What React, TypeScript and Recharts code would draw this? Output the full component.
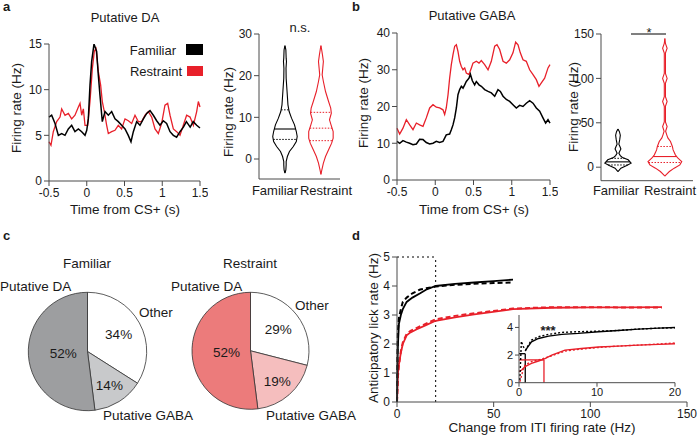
import { LineChart, Line, XAxis, YAxis, ComposedChart, PieChart, Pie, Cell, ReferenceLine } from "recharts";

// ---- styles ----
const FONT = "'Liberation Sans', Arial, Helvetica, sans-serif";
const AX = "#4a4a4a";
const TXT = "#1a1a1a";
const RED = "#e8202a";

// ---- a: putative DA firing rate ----
const daFamT = [-0.5, -0.465, -0.42, -0.376, -0.332, -0.288, -0.244, -0.2, -0.156, -0.111, -0.067, -0.023, 0, 0.021, 0.043, 0.065, 0.096, 0.131, 0.153, 0.175, 0.206, 0.242, 0.286, 0.33, 0.374, 0.418, 0.462, 0.507, 0.55, 0.586, 0.617, 0.661, 0.705, 0.75, 0.794, 0.838, 0.882, 0.926, 0.97, 1.014, 1.058, 1.103, 1.147, 1.19, 1.235, 1.28, 1.32, 1.37, 1.41, 1.456, 1.5];
const daFamV = [7.0, 7.2, 6.3, 5.0, 5.2, 5.0, 5.7, 6.1, 5.4, 5.7, 5.4, 5.0, 5.55, 6.8, 10.5, 13.1, 15.0, 14.2, 11.6, 9.4, 6.5, 7.6, 7.2, 7.6, 6.8, 6.5, 6.1, 5.7, 5.0, 4.3, 5.4, 6.5, 6.1, 6.8, 7.4, 7.7, 7.2, 6.6, 6.1, 6.6, 6.3, 5.4, 5.0, 4.8, 5.4, 5.9, 6.5, 5.9, 6.5, 6.1, 5.8];
const daResT = [-0.5, -0.474, -0.443, -0.398, -0.354, -0.332, -0.288, -0.244, -0.2, -0.156, -0.111, -0.089, -0.067, -0.045, -0.023, 0.012, 0.043, 0.074, 0.1, 0.122, 0.153, 0.184, 0.206, 0.233, 0.264, 0.286, 0.33, 0.374, 0.418, 0.462, 0.507, 0.551, 0.595, 0.639, 0.683, 0.727, 0.772, 0.816, 0.86, 0.904, 0.948, 0.992, 1.036, 1.072, 1.103, 1.147, 1.191, 1.235, 1.279, 1.323, 1.368, 1.412, 1.456, 1.478, 1.5];
const daResV = [4.3, 3.9, 5.4, 6.5, 7.0, 7.9, 7.2, 7.4, 6.8, 7.2, 8.1, 8.5, 7.2, 7.9, 6.1, 6.1, 8.7, 12.3, 14.2, 14.5, 12.0, 10.5, 8.7, 7.6, 6.1, 5.2, 5.4, 5.55, 6.1, 5.7, 6.8, 6.6, 6.3, 7.2, 6.5, 6.5, 7.2, 7.6, 7.0, 5.7, 5.2, 6.3, 8.3, 8.5, 7.2, 5.7, 5.4, 5.0, 6.1, 7.2, 7.0, 6.1, 7.6, 8.7, 8.1];

// ---- b: putative GABA firing rate ----
const gbFamT = [-0.5, -0.465, -0.422, -0.378, -0.334, -0.291, -0.247, -0.204, -0.16, -0.117, -0.073, -0.029, 0.014, 0.057, 0.101, 0.123, 0.144, 0.188, 0.21, 0.232, 0.254, 0.276, 0.297, 0.319, 0.341, 0.363, 0.385, 0.406, 0.441, 0.459, 0.485, 0.515, 0.537, 0.572, 0.602, 0.646, 0.69, 0.733, 0.777, 0.82, 0.851, 0.886, 0.929, 0.973, 1.016, 1.06, 1.103, 1.147, 1.19, 1.234, 1.278, 1.321, 1.365, 1.408, 1.443, 1.474, 1.5];
const gbFamV = [10.5, 10.0, 10.7, 10.3, 10.0, 9.6, 9.8, 11.1, 11.0, 10.2, 9.8, 10.0, 10.5, 10.2, 10.5, 11.4, 12.3, 12.5, 13.7, 15.0, 16.9, 19.6, 23.2, 24.6, 25.5, 25.0, 25.9, 26.8, 27.7, 28.8, 27.0, 25.9, 26.8, 25.9, 25.5, 24.6, 24.1, 23.7, 22.8, 24.6, 24.1, 22.8, 21.9, 21.4, 20.5, 19.6, 20.3, 20.0, 20.9, 21.6, 20.9, 19.6, 18.7, 16.9, 15.5, 16.4, 15.5];
const gbResT = [-0.5, -0.465, -0.422, -0.378, -0.334, -0.291, -0.247, -0.204, -0.16, -0.117, -0.073, -0.029, 0.014, 0.057, 0.101, 0.123, 0.144, 0.167, 0.188, 0.21, 0.232, 0.254, 0.276, 0.297, 0.319, 0.341, 0.363, 0.385, 0.406, 0.441, 0.472, 0.493, 0.537, 0.572, 0.602, 0.646, 0.69, 0.733, 0.777, 0.807, 0.842, 0.886, 0.929, 0.973, 1.016, 1.051, 1.082, 1.112, 1.147, 1.19, 1.234, 1.278, 1.321, 1.356, 1.387, 1.43, 1.474, 1.5];
const gbResV = [14.1, 12.5, 14.1, 16.4, 15.0, 13.7, 15.5, 15.0, 14.6, 16.9, 19.6, 20.5, 19.8, 19.6, 19.1, 17.8, 19.6, 23.2, 27.7, 31.4, 34.1, 36.4, 36.8, 35.0, 32.3, 30.9, 30.0, 30.5, 29.1, 28.7, 30.5, 31.8, 32.3, 31.8, 32.5, 31.4, 30.0, 32.3, 36.4, 36.8, 35.5, 32.3, 31.8, 32.7, 34.6, 37.5, 36.8, 34.6, 32.7, 32.3, 30.0, 28.7, 27.3, 25.5, 26.4, 27.7, 30.5, 31.4];

// ---- violins (firing rate level, relative density) ----
const vaFamY = [-3.4, -2.6, -1.4, -0.6, 0.6, 1.8, 3.0, 4.2, 5.4, 6.6, 8.2, 9.8, 11.4, 13, 16.2, 19.4, 21.8, 23.4, 24.2, 26.2, 27.2];
const vaFamD = [0, 3, 4, 4, 8, 15, 28, 38, 41, 38, 32, 22, 14, 10, 7, 4, 3.5, 5, 4, 3, 0];
const vaResY = [-3.7, -2.6, -1, 0.6, 2.2, 3.8, 5, 6.6, 8.2, 9.4, 11, 12.2, 13.8, 16.2, 18.6, 20.2, 21.8, 23.4, 25, 26.4, 27.2];
const vaResD = [0, 3, 8, 15, 25, 35, 40, 40, 33, 28, 34, 32, 25, 15, 8, 4, 6, 8, 5, 2, 0];
const vaFamQ = [4.7, 7.2, 11.8];
const vaResQ = [4.4, 7.4, 11.2];

const vbFamY = [-4.9, -1.1, 1.9, 4.5, 8.3, 11, 13, 15.8, 18, 20.5, 23, 26, 31, 36, 40, 43];
const vbFamD = [0, 10, 30, 45, 35, 15, 8, 3, 6, 10, 7, 3, 6, 8, 5, 0];
const vbResY = [-10, -8.6, -4.9, -1.1, 2.6, 6.4, 10.1, 13.9, 19.5, 23.3, 28.9, 33, 36.4, 40.5, 45.8, 51, 68.5, 74, 79.5, 94.5, 100, 105.5, 128.5, 134, 139.5, 145];
const vbResD = [0, 3, 12, 25, 40, 45, 35, 28, 22, 20, 15, 8, 5, 2, 6, 1.5, 1.5, 6, 1.5, 1.5, 6, 1.5, 1.5, 6, 1.5, 0];
const vbFamQ = [2.5, 6, 10];
const vbResQ = [5.3, 12, 23.3];

// ---- c: cell type proportions ----
const pieNames = ["Other", "Putative GABA", "Putative DA"];
const famPct = [34, 14, 52];
const resPct = [29, 19, 52];
const famColors = ["#ffffff", "#c8c9cb", "#9d9ea0"];
const resColors = ["#ffffff", "#f5bebe", "#ec7b7b"];

// ---- d: lick rate vs change in firing ----
const dBlackX = [0, 0.2, 0.5, 1, 2, 3, 5, 8, 12, 15, 20, 30, 40, 50, 60];
const dBlackSolid = [0, 1.2, 2.0, 2.7, 3.0, 3.2, 3.45, 3.6, 3.75, 3.87, 4.0, 4.07, 4.12, 4.17, 4.22];
const dBlackDash = [0, 1.6, 2.5, 2.9, 3.2, 3.45, 3.6, 3.75, 3.88, 3.92, 3.98, 4.04, 4.08, 4.1, 4.12];
const dRedX = [0, 0.3, 0.5, 1, 2, 3, 5, 7, 10, 15, 20, 30, 40, 60, 80, 100, 120, 137];
const dRedSolid = [0, 0.6, 1.0, 1.3, 1.7, 2.0, 2.3, 2.4, 2.5, 2.65, 2.8, 2.92, 3.02, 3.2, 3.25, 3.26, 3.26, 3.27];
const dRedDash = [0, 0.5, 0.9, 1.25, 1.75, 2.05, 2.35, 2.45, 2.55, 2.7, 2.85, 2.97, 3.06, 3.22, 3.27, 3.27, 3.26, 3.26];

const inBlackSolidX = [0.8, 1.0, 1.6, 2.5, 3.8, 5.5, 7.6, 10.2, 12.7, 15.3, 17.9, 20];
const inBlackSolidY = [2.3, 2.48, 2.96, 3.2, 3.37, 3.5, 3.57, 3.69, 3.78, 3.88, 3.95, 4.0];
const inBlackDotX = [0.1, 0.2, 0.3, 0.55, 0.85, 1.2, 1.6, 2.5, 3.8, 5.5, 7.6, 10.2, 12.7, 15.3, 17.9, 20];
const inBlackDotY = [0.2, 1.5, 3.0, 2.6, 2.36, 2.72, 3.08, 3.33, 3.5, 3.64, 3.69, 3.73, 3.78, 3.88, 3.95, 3.98];
const inRedSolidX = [0, 0.35, 0.77, 1.6, 2.5, 3.2, 4.2, 5.9, 8, 10.2, 12.7, 15.3, 17.9, 20];
const inRedSolidY = [0.8, 0.92, 1.16, 1.4, 1.57, 1.71, 2.0, 2.36, 2.48, 2.58, 2.65, 2.72, 2.77, 2.82];
const inRedDotX = [0.1, 0.35, 0.55, 0.77, 1.6, 2.5, 4.2, 5.9, 8, 10.2, 12.7, 15.3, 17.9, 20];
const inRedDotY = [0.07, 0.55, 1.0, 1.28, 1.52, 1.64, 1.95, 2.29, 2.43, 2.55, 2.65, 2.72, 2.8, 2.87];
const blackThresh = [0.8, 2.1];
const redThresh = [3.2, 1.65];

// ---- helpers ----
const zip = (xs: number[], ys: number[]) => xs.map((x, i) => ({ x, y: ys[i] }));

type Geo = { x: number; y: number; w: number; h: number; l: number; t: number; r: number; b: number };
const place = (g: Geo) => ({
  style: { position: "absolute" as const, left: g.x - g.l, top: g.y - g.t },
  width: g.w + g.l + g.r,
  height: g.h + g.t + g.b,
  margin: { top: g.t, right: g.r, left: 0, bottom: 0 },
});

const tick = { fontSize: 12, fill: TXT, fontFamily: FONT };
const axis = { axisLine: { stroke: AX }, tickLine: { stroke: AX }, tickSize: 5, tickMargin: 2, interval: 0 as const };
const line = { dot: false, activeDot: false, isAnimationActive: false, type: "linear" as const };

function TraceChart({ geo, yMax, yTicks, fam, res }: { geo: Geo; yMax: number; yTicks: number[]; fam: { x: number; y: number }[]; res: { x: number; y: number }[] }) {
  const p = place(geo);
  return (
    <div style={p.style}>
      <LineChart width={p.width} height={p.height} margin={p.margin}>
        <XAxis type="number" dataKey="x" domain={[-0.5, 1.5]} ticks={[-0.5, 0, 0.5, 1, 1.5]} height={geo.b} tick={tick} {...axis} />
        <YAxis type="number" domain={[0, yMax]} ticks={yTicks} width={geo.l} tick={tick} allowDataOverflow {...axis} />
        <Line data={res} dataKey="y" stroke={RED} strokeWidth={1.3} {...line} />
        <Line data={fam} dataKey="y" stroke="#000" strokeWidth={1.5} {...line} />
      </LineChart>
    </div>
  );
}

type ViolinDef = { ys: number[]; dens: number[]; c: number; hw: number; color: string; q: number[]; solidMedian: boolean };

const densAt = (ys: number[], d: number[], v: number) => {
  for (let i = 1; i < ys.length; i++) {
    if (v <= ys[i]) return d[i - 1] + ((d[i] - d[i - 1]) * (v - ys[i - 1])) / (ys[i] - ys[i - 1]);
  }
  return 0;
};

function ViolinChart({ geo, yDomain, yTicks, xDomain, violins }: { geo: Geo; yDomain: number[]; yTicks: number[]; xDomain: number[]; violins: ViolinDef[] }) {
  const p = place(geo);
  return (
    <div style={p.style}>
      <ComposedChart layout="vertical" width={p.width} height={p.height} margin={p.margin}>
        <XAxis type="number" domain={xDomain} allowDataOverflow tick={false} tickLine={false} axisLine={{ stroke: AX }} height={geo.b} />
        <YAxis type="number" dataKey="y" domain={yDomain} ticks={yTicks} reversed allowDataOverflow width={geo.l} tick={tick} {...axis} />
        {violins.map((v, k) => {
          const max = Math.max(...v.dens);
          const pts = v.ys.map((y, i) => ({ y, l: v.c - (v.dens[i] / max) * v.hw, r: v.c + (v.dens[i] / max) * v.hw }));
          return [
            <Line key={`l${k}`} data={pts} dataKey="l" stroke={v.color} strokeWidth={1.1} {...line} />,
            <Line key={`r${k}`} data={pts} dataKey="r" stroke={v.color} strokeWidth={1.1} {...line} />,
            ...v.q.map((q, j) => {
              const w = (densAt(v.ys, v.dens, q) / max) * v.hw;
              const solid = j === 1 && v.solidMedian;
              return (
                <ReferenceLine
                  key={`q${k}${j}`}
                  segment={[{ x: v.c - w, y: q }, { x: v.c + w, y: q }]}
                  stroke={v.color}
                  strokeWidth={solid ? 1.1 : 1}
                  strokeDasharray={solid ? undefined : "1.5 1.5"}
                  ifOverflow="visible"
                />
              );
            }),
          ];
        })}
      </ComposedChart>
    </div>
  );
}

const PCT_R = [0.6, 0.69, 0.41];
const RAD = Math.PI / 180;
const pctLabel = (pr: any) => {
  const r = pr.outerRadius * PCT_R[pr.index ?? 0];
  const x = pr.cx + r * Math.cos(-pr.midAngle * RAD);
  const y = pr.cy + r * Math.sin(-pr.midAngle * RAD);
  return (
    <text x={x} y={y} textAnchor="middle" dominantBaseline="central" fontSize={13.5} fill={TXT} fontFamily={FONT}>
      {`${pr.value}%`}
    </text>
  );
};

function CellPie({ left, top, cx, cy, r, pct, colors }: { left: number; top: number; cx: number; cy: number; r: number; pct: number[]; colors: string[] }) {
  const data = pieNames.map((name, i) => ({ name, value: pct[i] }));
  return (
    <div style={{ position: "absolute", left, top }}>
      <PieChart width={170} height={140} margin={{ top: 0, right: 0, left: 0, bottom: 0 }}>
        <Pie
          data={data}
          dataKey="value"
          cx={cx}
          cy={cy}
          outerRadius={r}
          startAngle={90}
          endAngle={-270}
          stroke="#333"
          strokeWidth={0.8}
          label={pctLabel}
          labelLine={false}
          isAnimationActive={false}
        >
          {data.map((_, i) => (
            <Cell key={i} fill={colors[i]} />
          ))}
        </Pie>
      </PieChart>
    </div>
  );
}

function LickChart() {
  const g: Geo = { x: 397, y: 257, w: 290, h: 145, l: 30, t: 6, r: 11, b: 22 };
  const p = place(g);
  return (
    <div style={p.style}>
      <ComposedChart width={p.width} height={p.height} margin={p.margin}>
        <XAxis type="number" dataKey="x" domain={[0, 150]} ticks={[0, 50, 100, 150]} height={g.b} tick={tick} {...axis} />
        <YAxis type="number" domain={[0, 5]} ticks={[0, 1, 2, 3, 4, 5]} width={g.l} tick={tick} {...axis} />
        <ReferenceLine segment={[{ x: 0, y: 5 }, { x: 20, y: 5 }]} stroke="#000" strokeDasharray="2 3" ifOverflow="visible" />
        <ReferenceLine segment={[{ x: 20, y: 0 }, { x: 20, y: 5 }]} stroke="#000" strokeDasharray="2 3" ifOverflow="visible" />
        <Line data={zip(dRedX, dRedDash)} dataKey="y" stroke={RED} strokeWidth={2} strokeDasharray="5 3" {...line} />
        <Line data={zip(dRedX, dRedSolid)} dataKey="y" stroke={RED} strokeWidth={1.8} {...line} />
        <Line data={zip(dBlackX, dBlackDash)} dataKey="y" stroke="#000" strokeWidth={2} strokeDasharray="5 3" {...line} />
        <Line data={zip(dBlackX, dBlackSolid)} dataKey="y" stroke="#000" strokeWidth={1.8} {...line} />
      </ComposedChart>
    </div>
  );
}

function LickInset() {
  const g: Geo = { x: 519, y: 315, w: 156, h: 67.7, l: 20, t: 4, r: 12, b: 18 };
  const p = place(g);
  const small = { ...tick, fontSize: 11 };
  return (
    <div style={p.style}>
      <ComposedChart width={p.width} height={p.height} margin={p.margin}>
        <XAxis type="number" dataKey="x" domain={[0, 20]} ticks={[0, 10, 20]} height={g.b} tick={small} {...axis} tickSize={4} />
        <YAxis type="number" domain={[0, 4.9]} ticks={[0, 2, 4]} width={g.l} tick={small} {...axis} tickSize={4} />
        <ReferenceLine segment={[{ x: 0, y: blackThresh[1] }, { x: blackThresh[0], y: blackThresh[1] }]} stroke="#000" strokeWidth={1.3} />
        <ReferenceLine segment={[{ x: blackThresh[0], y: 0 }, { x: blackThresh[0], y: blackThresh[1] }]} stroke="#000" strokeWidth={1.3} />
        <ReferenceLine segment={[{ x: 0, y: redThresh[1] }, { x: redThresh[0], y: redThresh[1] }]} stroke={RED} strokeWidth={1.3} />
        <ReferenceLine segment={[{ x: redThresh[0], y: 0 }, { x: redThresh[0], y: redThresh[1] }]} stroke={RED} strokeWidth={1.3} />
        <Line data={zip(inRedDotX, inRedDotY)} dataKey="y" stroke={RED} strokeWidth={1.4} strokeDasharray="2 2" {...line} />
        <Line data={zip(inRedSolidX, inRedSolidY)} dataKey="y" stroke={RED} strokeWidth={1.4} {...line} />
        <Line data={zip(inBlackDotX, inBlackDotY)} dataKey="y" stroke="#000" strokeWidth={1.4} strokeDasharray="2 2" {...line} />
        <Line data={zip(inBlackSolidX, inBlackSolidY)} dataKey="y" stroke="#000" strokeWidth={1.4} {...line} />
      </ComposedChart>
    </div>
  );
}

function Overlay() {
  const yTitle = (x: number, y: number, s: string) => (
    <text transform={`translate(${x},${y}) rotate(-90)`} textAnchor="middle" dominantBaseline="central" fontSize={13.5}>
      {s}
    </text>
  );
  return (
    <svg width={698} height={440} style={{ position: "absolute", left: 0, top: 0, pointerEvents: "none" }} fontFamily={FONT} fill={TXT}>
      <g fontSize={13} fontWeight="bold">
        <text x={3} y={11}>a</text>
        <text x={352} y={11}>b</text>
        <text x={3} y={240}>c</text>
        <text x={352} y={240}>d</text>
      </g>
      <g fontSize={13} textAnchor="middle">
        <text x={125} y={22}>Putative DA</text>
        <text x={472} y={20}>Putative GABA</text>
      </g>
      {/* legend */}
      <g fontSize={13}>
        <text x={176} y={55} textAnchor="end">Familiar</text>
        <text x={182} y={76} textAnchor="end">Restraint</text>
      </g>
      <rect x={186} y={44} width={17} height={11} fill="#000" />
      <rect x={187} y={66} width={16} height={10} fill={RED} />
      {/* axis titles */}
      <g fontSize={13.5} textAnchor="middle">
        <text x={125} y={214}>Time from CS+ (s)</text>
        <text x={474} y={214}>Time from CS+ (s)</text>
        <text x={542} y={432}>Change from ITI firing rate (Hz)</text>
      </g>
      {yTitle(16, 108, "Firing rate (Hz)")}
      {yTitle(228, 112, "Firing rate  (Hz)")}
      {yTitle(363, 103, "Firing rate (Hz)")}
      {yTitle(573, 107, "Firing rate (Hz)")}
      {yTitle(373, 328, "Anticipatory lick rate (Hz)")}
      {/* violin group labels */}
      <g fontSize={13} textAnchor="middle">
        <text x={275} y={195}>Familiar</text>
        <text x={326} y={195}>Restraint</text>
        <text x={616} y={195}>Familiar</text>
        <text x={670} y={195}>Restraint</text>
      </g>
      <text x={300} y={32} fontSize={13} textAnchor="middle">n.s.</text>
      <line x1={631} x2={666} y1={34} y2={34} stroke="#000" strokeWidth={1} />
      <text x={649} y={37} fontSize={13} textAnchor="middle">*</text>
      <text x={548} y={335} fontSize={13} textAnchor="middle" fontWeight="bold">***</text>
      {/* pie titles and names */}
      <g fontSize={13.5}>
        <text x={87} y={268} textAnchor="middle">Familiar</text>
        <text x={250} y={268} textAnchor="middle">Restraint</text>
        <text x={0} y={291}>Putative DA</text>
        <text x={139} y={317}>Other</text>
        <text x={103} y={420}>Putative GABA</text>
        <text x={171} y={291}>Putative DA</text>
        <text x={295} y={310}>Other</text>
        <text x={266} y={420}>Putative GABA</text>
      </g>
    </svg>
  );
}

export default function App() {
  const aLine: Geo = { x: 49, y: 44, w: 151, h: 137, l: 45, t: 8, r: 8, b: 22 };
  const bLine: Geo = { x: 397, y: 33, w: 153, h: 147, l: 40, t: 8, r: 8, b: 22 };
  const aViolin: Geo = { x: 259, y: 34, w: 81, h: 145, l: 40, t: 6, r: 6, b: 6 };
  const bViolin: Geo = { x: 601, y: 34.3, w: 92, h: 146.7, l: 40, t: 6, r: 4, b: 6 };
  return (
    <div style={{ position: "absolute", left: 0, top: 0, width: 698, height: 440, background: "#fff", overflow: "hidden", fontFamily: FONT }}>
      <TraceChart geo={aLine} yMax={15} yTicks={[0, 5, 10, 15]} fam={zip(daFamT, daFamV)} res={zip(daResT, daResV)} />
      <TraceChart geo={bLine} yMax={40} yTicks={[0, 10, 20, 30, 40]} fam={zip(gbFamT, gbFamV)} res={zip(gbResT, gbResV)} />
      <ViolinChart
        geo={aViolin}
        yDomain={[-4.8, 30]}
        yTicks={[0, 10, 20, 30]}
        xDomain={[0.278, 2.53]}
        violins={[
          { ys: vaFamY, dens: vaFamD, c: 1, hw: 0.34, color: "#000", q: vaFamQ, solidMedian: true },
          { ys: vaResY, dens: vaResD, c: 2, hw: 0.34, color: RED, q: vaResQ, solidMedian: false },
        ]}
      />
      <ViolinChart
        geo={bViolin}
        yDomain={[-15.2, 150]}
        yTicks={[0, 50, 100, 150]}
        xDomain={[0.638, 2.6]}
        violins={[
          { ys: vbFamY, dens: vbFamD, c: 1, hw: 0.28, color: "#000", q: vbFamQ, solidMedian: true },
          { ys: vbResY, dens: vbResD, c: 2, hw: 0.36, color: RED, q: vbResQ, solidMedian: true },
        ]}
      />
      <CellPie left={0} top={280} cx={87.5} cy={71.5} r={59.2} pct={famPct} colors={famColors} />
      <CellPie left={175} top={280} cx={75.5} cy={70.8} r={58.5} pct={resPct} colors={resColors} />
      <LickChart />
      <LickInset />
      <Overlay />
    </div>
  );
}
